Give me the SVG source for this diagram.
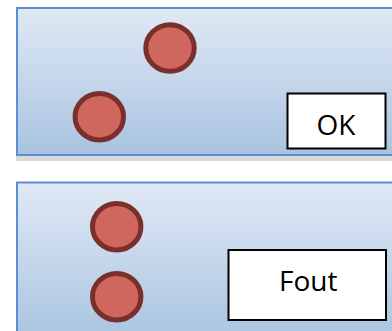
<svg xmlns="http://www.w3.org/2000/svg" width="392" height="331" viewBox="0 0 392 331">
  <defs>
    <linearGradient id="panelGrad" x1="0" y1="0" x2="0" y2="1">
      <stop offset="0" stop-color="#e0e9f5"/>
      <stop offset="1" stop-color="#a8c3e0"/>
    </linearGradient>
    <style>
      .panel { fill: url(#panelGrad); stroke: #5b8fcf; stroke-width: 2; }
      .shadow { fill: #d9d9d9; }
      .dot { fill: #cf675f; stroke: #7b2f2a; stroke-width: 5; }
      .box { fill: #ffffff; stroke: #000000; stroke-width: 2; }
      .label { font-family: "Open Sans", "Liberation Sans", sans-serif; font-size: 28px; fill: #000000; text-anchor: middle; }
    </style>
  </defs>

  <g id="panel-ok">
    <rect class="shadow" x="16" y="11" width="390" height="150"/>
    <rect class="panel" x="17" y="8" width="390" height="147"/>
  </g>
  <g id="panel-fout">
    <rect class="panel" x="17" y="182.5" width="390" height="160"/>
  </g>

  <g id="dot-ok-1"><ellipse class="dot" cx="170" cy="48" rx="24.2" ry="23.3"/></g>
  <g id="dot-ok-2"><ellipse class="dot" cx="99.3" cy="116.7" rx="24.2" ry="23.3"/></g>
  <g id="dot-fout-1"><ellipse class="dot" cx="116.7" cy="226.7" rx="24.2" ry="23.3"/></g>
  <g id="dot-fout-2"><ellipse class="dot" cx="116.7" cy="296.7" rx="24.2" ry="23.3"/></g>

  <g id="box-ok">
    <rect class="box" x="287.5" y="93.5" width="98" height="55"/>
    <text class="label" x="336" y="134.5">OK</text>
  </g>
  <g id="box-fout">
    <rect class="box" x="228.5" y="250" width="157.5" height="70"/>
    <text class="label" x="308.3" y="290.7">Fout</text>
  </g>

  <g id="connectors"/>
</svg>
